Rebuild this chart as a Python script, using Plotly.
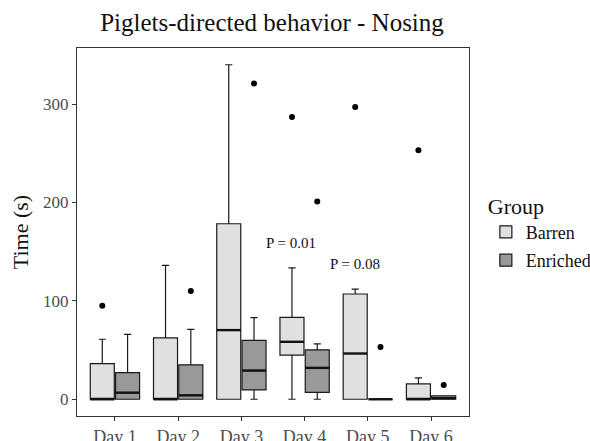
import plotly.graph_objects as go

days = ["Day 1", "Day 2", "Day 3", "Day 4", "Day 5", "Day 6"]
groups = ["Barren", "Enriched"]

barren_q1 = [0, 0, 0, 44.8, 0, 0]
barren_median = [0, 0, 70.3, 58.4, 46.5, 0]
barren_q3 = [36.3, 62.5, 178.4, 83.2, 107, 15.6]
barren_lower = [0, 0, 0, 0, 0, 0]
barren_upper = [61, 136, 340, 133.5, 112, 21.7]
barren_outliers = [[95], [], [], [287], [297], [253]]

enriched_q1 = [0, 0, 9.5, 7.1, 0, 0]
enriched_median = [6.7, 4, 29.2, 31.9, 0, 1.2]
enriched_q3 = [27, 35, 59.8, 50.3, 0, 3.6]
enriched_lower = [0, 0, 0, 0, 0, 0]
enriched_upper = [66, 71, 83, 56.4, 0, 3.6]
enriched_outliers = [[], [110], [321], [201], [53], [14.6]]

p_labels = ["P = 0.01", "P = 0.08"]
p_x = [3.78, 4.79]
p_y = [159, 137]

fills = {"Barren": "#e0e0e0", "Enriched": "#999999"}
FONT = "Liberation Serif, Times New Roman, serif"
dodge = 0.2
bw = 0.38

stats = {
    "Barren": (barren_q1, barren_median, barren_q3, barren_lower, barren_upper, barren_outliers, -dodge),
    "Enriched": (enriched_q1, enriched_median, enriched_q3, enriched_lower, enriched_upper, enriched_outliers, dodge),
}

fig = go.Figure()
pos = list(range(1, len(days) + 1))
for g in groups:
    q1, med, q3, lo, up, outs, off = stats[g]
    xs = [p + off for p in pos]
    fig.add_trace(go.Box(
        name=g, x=xs, q1=q1, median=med, q3=q3, lowerfence=lo, upperfence=up,
        width=bw, fillcolor=fills[g], line=dict(color="#1a1a1a", width=1.2),
        whiskerwidth=0.3, boxpoints=False, showlegend=True, legendgroup=g,
    ))
for g in groups:
    q1, med, q3, lo, up, outs, off = stats[g]
    mx, my = [], []
    for p, m in zip(pos, med):
        mx += [p + off - bw / 2, p + off + bw / 2, None]
        my += [m, m, None]
    fig.add_trace(go.Scatter(x=mx, y=my, mode="lines", line=dict(color="#111111", width=2.4),
                             showlegend=False, hoverinfo="skip", legendgroup=g))
    ox, oy = [], []
    for p, vals in zip(pos, outs):
        for v in vals:
            ox.append(p + off)
            oy.append(v)
    fig.add_trace(go.Scatter(x=ox, y=oy, mode="markers", marker=dict(color="black", size=6),
                             showlegend=False, hoverinfo="skip", legendgroup=g))

for t, x, y in zip(p_labels, p_x, p_y):
    fig.add_annotation(x=x, y=y, text=t, showarrow=False,
                       font=dict(family=FONT, size=15, color="#111111"))

fig.update_layout(
    width=590, height=441,
    margin=dict(l=77, r=121, t=48, b=25, autoexpand=False),
    paper_bgcolor="white", plot_bgcolor="white",
    boxmode="overlay",
    font=dict(family=FONT, color="#222222"),
    title=dict(text="Piglets-directed behavior - Nosing", x=0.461,
               xanchor="center", y=0.95, yanchor="middle",
               font=dict(family=FONT, size=25, color="#111111")),
    legend=dict(title=dict(text="Group", font=dict(family=FONT, size=22, color="#111111")),
                x=1.043, y=0.5, xanchor="left", yanchor="middle",
                font=dict(family=FONT, size=18, color="#111111"), tracegroupgap=2),
    showlegend=True,
)
fig.update_xaxes(range=[0.4, 6.6], tickvals=pos, ticktext=days, showgrid=False, zeroline=False,
                 showline=True, mirror=True, linecolor="#333333", linewidth=1,
                 ticks="outside", ticklen=4, tickcolor="#333333", automargin=False,
                 tickfont=dict(family=FONT, size=18, color="#4d4d4d"))
fig.update_yaxes(range=[-17, 357], tickvals=[0, 100, 200, 300], showgrid=False, zeroline=False,
                 showline=True, mirror=True, linecolor="#333333", linewidth=1,
                 ticks="outside", ticklen=4, tickcolor="#333333", automargin=False,
                 tickfont=dict(family=FONT, size=17, color="#4d4d4d"),
                 title=dict(text="Time (s)", standoff=8, font=dict(family=FONT, size=22, color="#111111")))

fig.write_html("out.html")
